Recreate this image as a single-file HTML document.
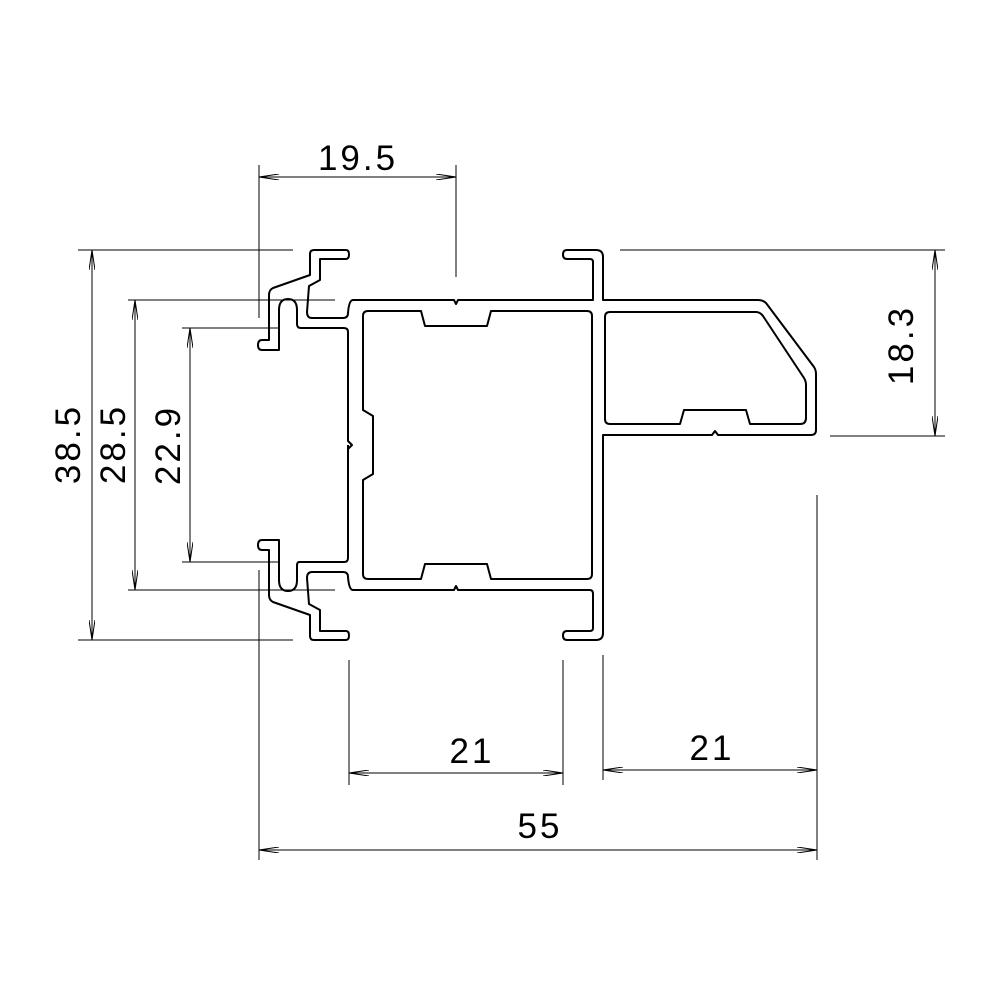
<!DOCTYPE html>
<html><head><meta charset="utf-8"><style>html,body{margin:0;padding:0;background:#fff}svg{display:block}</style></head>
<body>
<svg width="1000" height="1000" viewBox="0 0 1000 1000" xmlns="http://www.w3.org/2000/svg">
<defs>
<marker id="a" viewBox="0 0 20 6" refX="20" refY="3" markerWidth="20" markerHeight="6" markerUnits="userSpaceOnUse" orient="auto-start-reverse">
<path d="M0,0 L20,3 L0,6" fill="none" stroke="#000" stroke-width="1"/>
</marker>
</defs>
<g fill="none" stroke="#000" stroke-width="2" stroke-linejoin="round">
<path d="M348,445 L348,449 M348,441 L352,445 L348,449 L348,558 Q348,562 344,562 L299,562 Q297,562 297,566 L297,580 Q297,591 288,591 Q279,591 279,580 L279,540 L262,540 Q258,540 258,545 Q258,550 262,550 L269,550 L269,595 Q269,600 273,602 L310,615 L310,636 Q310,640 314,640 L346,640 Q349,640 349,635.5 Q349,631 346,631 L320,631 L320,610 L309,604 L307,578 Q307,572 312,572 L343,572 Q348,572 348,577 Q349,590 353,590 L454,590 L456,586 L458,590 L590,590 Q593,590 593,594 L593,628 Q593,631 590,631 L567,631 Q563,631 563,635.5 Q563,640 567,640 L596,640 Q603,640 603,633 L603,435 L712,435 L715,431 L718,435 L811,435 Q816,435 816,430 L816,374 Q816,370 814,367 L766,303 Q763,300 758,300 L603,300 L603,257 Q603,250 596,250 L567,250 Q563,250 563,254.5 Q563,259 567,259 L590,259 Q593,259 593,262 L593,300 L458,300 L456,304 L454,300 L353,300 Q349,300 348,313 Q348,318 343,318 L312,318 Q307,318 307,312 L309,286 L320,280 L320,259 L346,259 Q349,259 349,254.5 Q349,250 346,250 L314,250 Q310,250 310,254 L310,275 L273,288 Q269,290 269,295 L269,340 L262,340 Q258,340 258,345 Q258,350 262,350 L279,350 L279,310 Q279,299 288,299 Q297,299 297,310 L297,324 Q297,328 301,328 L344,328 Q348,328 348,332 Z"/>
<path d="M368,311 L421,311 L425,326 L487,326 L491,311 L587,311 Q592,311 592,316 L592,574 Q592,579 587,579 L491,579 L487,564 L425,564 L421,579 L368,579 Q363,579 363,574 L363,480 L373,474 L373,416 L363,410 L363,316 Q363,311 368,311 Z"/>
<path d="M610,312 L756,312 Q760,312 763,316 L804,378 Q806,381 806,385 L806,418 Q806,424 800,424 L750,424 L746,410 L684,410 L680,424 L610,424 Q605,424 605,419 L605,317 Q605,312 610,312 Z"/>
</g>
<g fill="none" stroke="#000" stroke-width="1">
<line x1="259" y1="165" x2="259" y2="318"/><line x1="456" y1="165" x2="456" y2="277"/>
<line x1="259" y1="177" x2="456" y2="177" marker-start="url(#a)" marker-end="url(#a)"/>
<line x1="78" y1="250" x2="293" y2="250"/><line x1="78" y1="640" x2="293" y2="640"/>
<line x1="92" y1="250" x2="92" y2="640" marker-start="url(#a)" marker-end="url(#a)"/>
<line x1="128" y1="300" x2="335" y2="300"/><line x1="128" y1="590" x2="335" y2="590"/>
<line x1="135" y1="300" x2="135" y2="590" marker-start="url(#a)" marker-end="url(#a)"/>
<line x1="182" y1="328" x2="278" y2="328"/><line x1="182" y1="562" x2="278" y2="562"/>
<line x1="190" y1="328" x2="190" y2="562" marker-start="url(#a)" marker-end="url(#a)"/>
<line x1="620" y1="250" x2="945" y2="250"/><line x1="830" y1="436" x2="945" y2="436"/>
<line x1="935" y1="250" x2="935" y2="436" marker-start="url(#a)" marker-end="url(#a)"/>
<line x1="349" y1="660" x2="349" y2="785"/><line x1="563" y1="660" x2="563" y2="785"/>
<line x1="349" y1="773" x2="563" y2="773" marker-start="url(#a)" marker-end="url(#a)"/>
<line x1="603" y1="655" x2="603" y2="780"/><line x1="817" y1="495" x2="817" y2="860"/>
<line x1="603" y1="770" x2="817" y2="770" marker-start="url(#a)" marker-end="url(#a)"/>
<line x1="259" y1="570" x2="259" y2="860"/>
<line x1="259" y1="850" x2="817" y2="850" marker-start="url(#a)" marker-end="url(#a)"/>
</g>
<g font-family="Liberation Sans, sans-serif" font-size="35" fill="#000" text-anchor="middle" letter-spacing="3">
<text x="358" y="170">19.5</text>
<text x="472" y="763">21</text>
<text x="712" y="760">21</text>
<text x="540" y="838">55</text>
<text transform="translate(80,444) rotate(-90)">38.5</text>
<text transform="translate(125,444) rotate(-90)">28.5</text>
<text transform="translate(180,445) rotate(-90)">22.9</text>
<text transform="translate(913,345) rotate(-90)">18.3</text>
</g>
</svg>
</body></html>
